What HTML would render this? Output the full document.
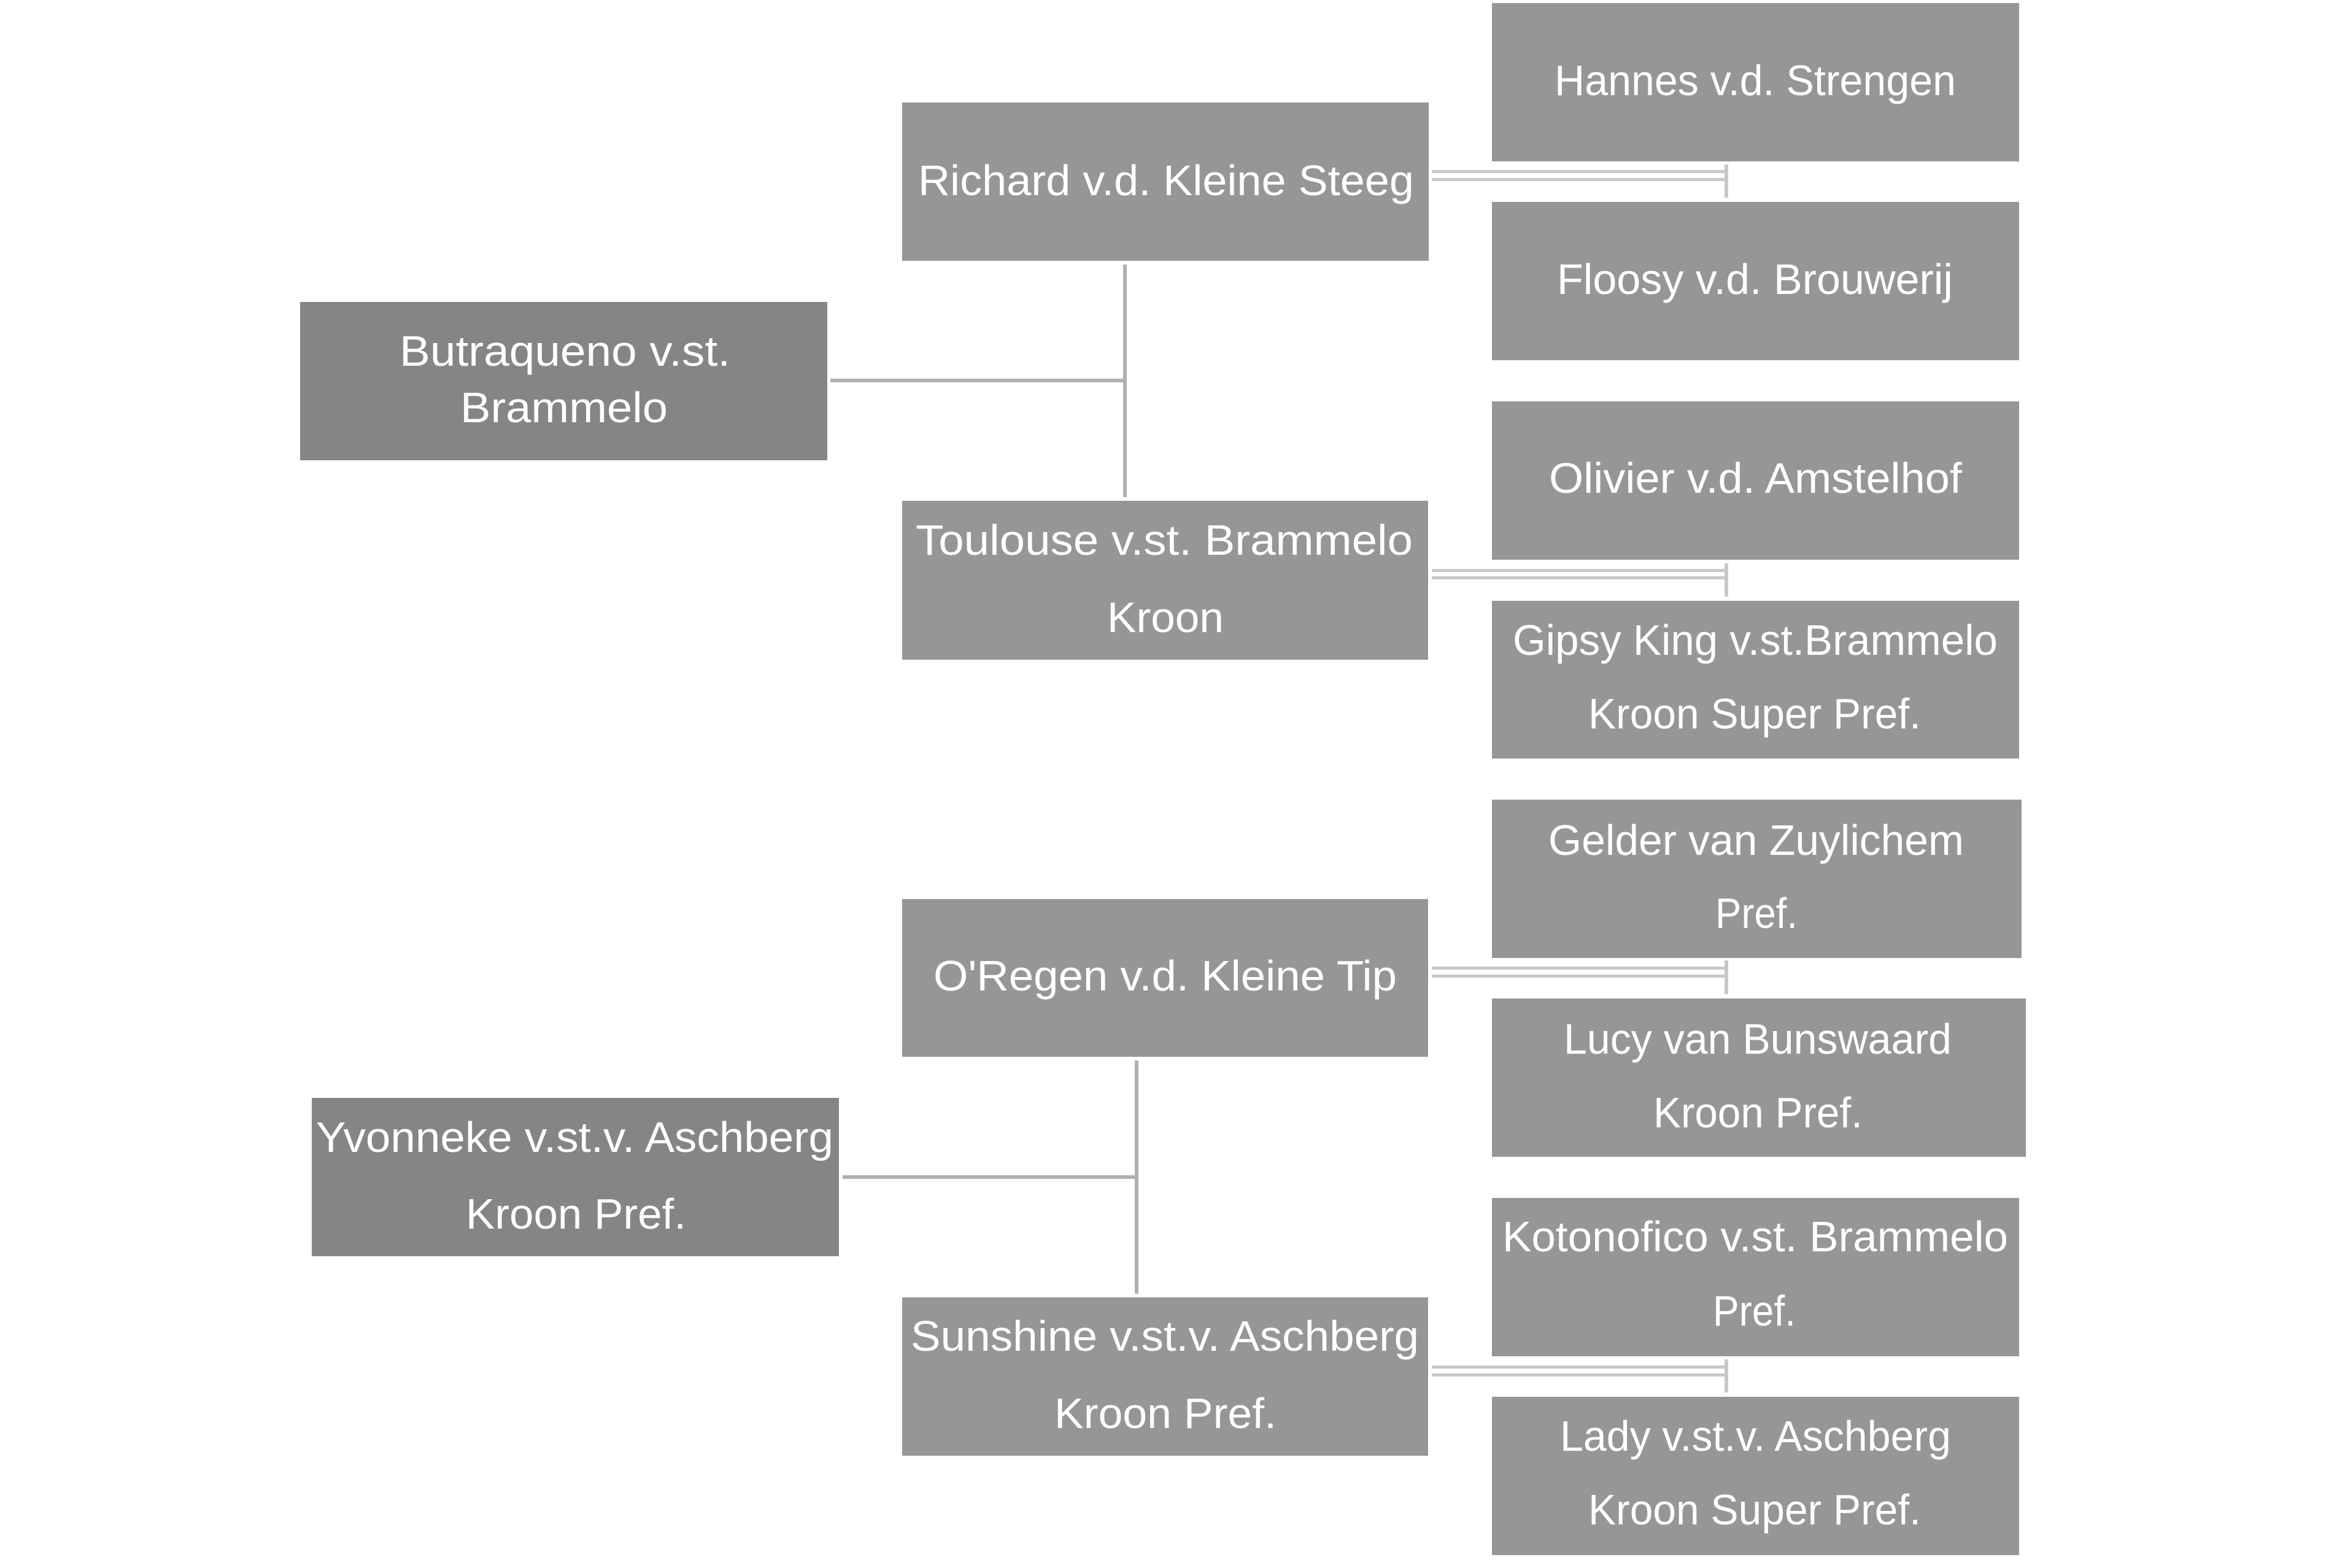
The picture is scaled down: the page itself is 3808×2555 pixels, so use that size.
<!DOCTYPE html>
<html>
<head>
<meta charset="utf-8">
<style>
  html, body { margin: 0; padding: 0; background: #ffffff; }
  body { width: 3808px; height: 2555px; overflow: hidden; }
  svg { display: block; }
  text { font-family: "Liberation Sans", "DejaVu Sans", sans-serif; font-size: 70px; fill: #ffffff; }
</style>
</head>
<body>
<svg xmlns="http://www.w3.org/2000/svg" width="3808" height="2555" viewBox="0 0 3808 2555">
  <rect x="0" y="0" width="3808" height="2555" fill="#ffffff"/>

  <!-- Left boxes -->
  <rect x="489" y="492" width="859" height="258" fill="#858585"/>
  <rect x="508" y="1789" width="859" height="258" fill="#858585"/>

  <!-- Middle boxes -->
  <rect x="1470" y="167" width="858" height="258" fill="#969696"/>
  <rect x="1470" y="816" width="857" height="259" fill="#969696"/>
  <rect x="1470" y="1465" width="857" height="257" fill="#969696"/>
  <rect x="1470" y="2114" width="857" height="258" fill="#969696"/>

  <!-- Right boxes -->
  <rect x="2431" y="5" width="859" height="258" fill="#969696"/>
  <rect x="2431" y="329" width="859" height="258" fill="#969696"/>
  <rect x="2431" y="654" width="859" height="258" fill="#969696"/>
  <rect x="2431" y="979" width="859" height="257" fill="#969696"/>
  <rect x="2431" y="1303" width="863" height="258" fill="#969696"/>
  <rect x="2431" y="1627" width="870" height="258" fill="#969696"/>
  <rect x="2431" y="1952" width="859" height="258" fill="#969696"/>
  <rect x="2431" y="2276" width="859" height="258" fill="#969696"/>

  <!-- Left-to-middle connectors -->
  <rect x="1353" y="617" width="480" height="6" fill="#b0b0b0"/>
  <rect x="1830" y="431" width="6" height="379" fill="#b0b0b0"/>
  <rect x="1373" y="1915" width="479" height="6" fill="#b0b0b0"/>
  <rect x="1849" y="1728" width="6" height="380" fill="#b0b0b0"/>

  <!-- Middle-to-right double connectors -->
  <g fill="#c8c8c8">
    <rect x="2333" y="277" width="479" height="5"/>
    <rect x="2333" y="290" width="479" height="5"/>
    <rect x="2810" y="268" width="6" height="54"/>

    <rect x="2333" y="927" width="479" height="5"/>
    <rect x="2333" y="939" width="479" height="5"/>
    <rect x="2810" y="918" width="6" height="54"/>

    <rect x="2333" y="1575" width="479" height="5"/>
    <rect x="2333" y="1588" width="479" height="5"/>
    <rect x="2810" y="1565" width="6" height="55"/>

    <rect x="2333" y="2225" width="479" height="5"/>
    <rect x="2333" y="2238" width="479" height="5"/>
    <rect x="2810" y="2215" width="6" height="54"/>
  </g>

  <!-- Text -->
  <text x="651" y="596" textLength="539" lengthAdjust="spacingAndGlyphs">Butraqueno v.st.</text>
  <text x="750" y="688" textLength="338" lengthAdjust="spacingAndGlyphs">Brammelo</text>

  <text x="515" y="1877" textLength="843" lengthAdjust="spacingAndGlyphs">Yvonneke v.st.v. Aschberg</text>
  <text x="759" y="2002" textLength="359" lengthAdjust="spacingAndGlyphs">Kroon Pref.</text>

  <text x="1496" y="318" textLength="808" lengthAdjust="spacingAndGlyphs">Richard v.d. Kleine Steeg</text>

  <text x="1492" y="904" textLength="810" lengthAdjust="spacingAndGlyphs">Toulouse v.st. Brammelo</text>
  <text x="1804" y="1030" textLength="190" lengthAdjust="spacingAndGlyphs">Kroon</text>

  <text x="1521" y="1614" textLength="755" lengthAdjust="spacingAndGlyphs">O'Regen v.d. Kleine Tip</text>

  <text x="1484" y="2201" textLength="828" lengthAdjust="spacingAndGlyphs">Sunshine v.st.v. Aschberg</text>
  <text x="1718" y="2327" textLength="362" lengthAdjust="spacingAndGlyphs">Kroon Pref.</text>

  <text x="2533" y="155" textLength="654" lengthAdjust="spacingAndGlyphs">Hannes v.d. Strengen</text>
  <text x="2537" y="479" textLength="645" lengthAdjust="spacingAndGlyphs">Floosy v.d. Brouwerij</text>
  <text x="2524" y="803" textLength="673" lengthAdjust="spacingAndGlyphs">Olivier v.d. Amstelhof</text>

  <text x="2465" y="1067" textLength="790" lengthAdjust="spacingAndGlyphs">Gipsy King v.st.Brammelo</text>
  <text x="2588" y="1187" textLength="542" lengthAdjust="spacingAndGlyphs">Kroon Super Pref.</text>

  <text x="2523" y="1393" textLength="677" lengthAdjust="spacingAndGlyphs">Gelder van Zuylichem</text>
  <text x="2795" y="1512" textLength="134" lengthAdjust="spacingAndGlyphs">Pref.</text>

  <text x="2548" y="1717" textLength="632" lengthAdjust="spacingAndGlyphs">Lucy van Bunswaard</text>
  <text x="2694" y="1837" textLength="341" lengthAdjust="spacingAndGlyphs">Kroon Pref.</text>

  <text x="2448" y="2039" textLength="824" lengthAdjust="spacingAndGlyphs">Kotonofico v.st. Brammelo</text>
  <text x="2791" y="2160" textLength="135" lengthAdjust="spacingAndGlyphs">Pref.</text>

  <text x="2542" y="2364" textLength="637" lengthAdjust="spacingAndGlyphs">Lady v.st.v. Aschberg</text>
  <text x="2588" y="2484" textLength="542" lengthAdjust="spacingAndGlyphs">Kroon Super Pref.</text>
</svg>
</body>
</html>
